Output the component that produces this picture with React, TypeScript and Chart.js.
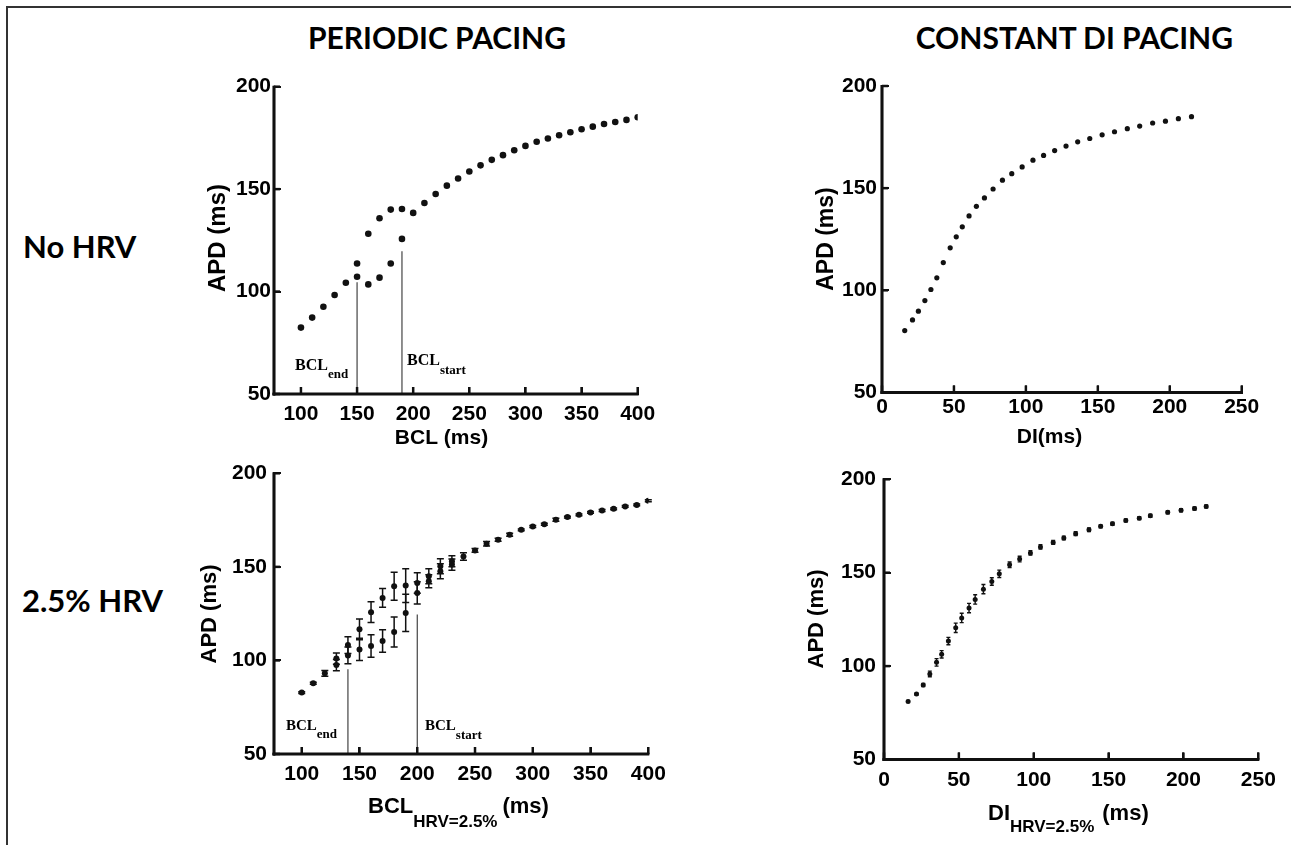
import React, { useEffect, useRef } from 'react';
import { Chart, registerables } from 'chart.js';
Chart.register(...registerables);

const W = 1291;
const H = 845;

// ---------- data ----------
const yTicks = [50, 100, 150, 200];
const xTicksBCL = [100, 150, 200, 250, 300, 350, 400];
const xTicksDI = [0, 50, 100, 150, 200, 250];

// Panel 1: periodic pacing, no HRV
const bcl1 = [100, 110, 120, 130, 140, 150, 160, 170, 180, 190, 200, 210, 220, 230, 240, 250, 260, 270, 280, 290, 300, 310, 320, 330, 340, 350, 360, 370, 380, 390, 400];
const apd1 = [82.4, 87.3, 92.6, 98.3, 104.3, 113.7, 128.2, 135.8, 140.0, 140.3, 138.4, 143.2, 147.6, 151.7, 155.2, 158.6, 161.6, 164.3, 166.6, 169.0, 171.1, 173.1, 174.7, 176.3, 177.8, 179.2, 180.5, 181.8, 182.8, 183.8, 185.1];
const bcl1Low = [150, 160, 170, 180, 190];
const apd1Low = [107.2, 103.5, 106.8, 113.7, 125.7];
const marks1X = [150, 190];
const marks1Top = [104.5, 119.7];

// Panel 2: constant DI pacing, no HRV
const di2 = [15.8, 21.2, 25.3, 29.8, 34.0, 38.1, 42.6, 47.4, 51.6, 55.8, 60.5, 65.6, 71.2, 77.2, 83.7, 90.2, 97.4, 104.9, 112.3, 120.0, 127.9, 136.0, 144.4, 153.0, 161.6, 170.5, 179.1, 188.1, 197.0, 206.0, 215.1];
const apd2 = [80.3, 85.5, 89.8, 95.0, 100.4, 106.1, 113.6, 120.8, 126.2, 131.1, 136.4, 141.1, 145.2, 149.6, 153.9, 157.1, 160.4, 163.7, 166.0, 168.4, 170.6, 172.7, 174.3, 176.1, 177.6, 179.1, 180.4, 181.9, 182.8, 184.0, 185.0];

// Panel 3: periodic pacing, 2.5% HRV (mean ± sd)
const bcl3 = [100, 110, 120, 130, 140, 150, 160, 170, 180, 190, 200, 210, 220, 230, 240, 250, 260, 270, 280, 290, 300, 310, 320, 330, 340, 350, 360, 370, 380, 390, 400];
const apd3 = [82.8, 87.8, 93.1, 101.0, 108.2, 116.6, 125.8, 133.4, 139.6, 140.0, 141.4, 145.0, 150.3, 153.0, 155.6, 158.8, 162.4, 164.5, 167.2, 169.8, 171.6, 172.8, 175.2, 176.6, 177.8, 179.1, 180.1, 181.0, 182.3, 183.1, 185.3];
const err3 = [0.5, 0.5, 1.5, 3.0, 4.5, 5.5, 5.5, 5.0, 7.5, 9.0, 5.5, 4.0, 4.0, 3.0, 2.0, 1.0, 1.2, 0.8, 0.8, 0.5, 0.5, 0.5, 0.8, 0.5, 0.5, 0.5, 0.5, 0.5, 0.5, 0.5, 0.5];
const bcl3Low = [130, 140, 150, 160, 170, 180, 190, 200, 210, 220, 230];
const apd3Low = [97.5, 102.7, 105.9, 107.7, 110.4, 115.2, 125.4, 136.1, 142.3, 147.6, 151.2];
const err3Low = [3.0, 4.5, 6.0, 6.0, 6.0, 8.0, 10.0, 6.0, 3.5, 4.0, 3.0];
const marks3X = [140, 200];
const marks3Top = [95.3, 124.6];

// Panel 4: constant DI pacing, 2.5% HRV
const di4 = [16.1, 21.7, 26.2, 30.6, 35.1, 38.5, 43.0, 47.9, 51.9, 56.8, 60.9, 66.4, 72.0, 77.0, 83.9, 90.6, 97.8, 104.5, 113.0, 120.1, 128.0, 136.9, 144.7, 152.6, 161.5, 170.5, 177.9, 189.5, 198.4, 207.4, 215.2];
const apd4 = [81.1, 85.0, 89.9, 95.8, 102.0, 106.3, 113.4, 120.5, 125.8, 131.1, 135.7, 141.2, 145.3, 149.4, 154.2, 157.3, 160.6, 163.8, 166.2, 168.6, 170.9, 173.0, 174.8, 176.2, 178.0, 179.2, 180.5, 182.3, 183.4, 184.4, 185.5];
const err4 = [0.5, 0.5, 0.8, 1.5, 2.0, 2.0, 2.0, 2.5, 2.5, 2.5, 2.5, 2.5, 2.0, 2.0, 1.5, 1.5, 1.2, 1.2, 1.0, 1.0, 1.0, 1.0, 0.8, 0.8, 0.8, 0.8, 0.8, 0.8, 0.8, 0.8, 0.8];

// ---------- helpers ----------
const SANS = '"Liberation Sans", Arial, Helvetica, sans-serif';
const SERIF = '"Liberation Serif", "Times New Roman", serif';
const INK = '#111111';
const toXY = (xs: number[], ys: number[]) => xs.map((x, i) => ({ x, y: ys[i] }));

function pointSet(xs: number[], ys: number[], r: number) {
  return {
    type: 'scatter',
    data: toXY(xs, ys),
    showLine: false,
    pointRadius: r,
    pointHoverRadius: r,
    pointBackgroundColor: INK,
    pointBorderWidth: 0,
    borderWidth: 0,
  };
}

function markLines(xs: number[], tops: number[], base: number) {
  return xs.map((x, i) => ({
    type: 'line',
    data: [{ x, y: base }, { x, y: tops[i] }],
    showLine: true,
    borderColor: '#333',
    borderWidth: 1.1,
    pointRadius: 0,
    fill: false,
  }));
}

function subLabel(ctx: CanvasRenderingContext2D, x: number, base: number, main: string, sub: string, mainFont: string, subFont: string, subDrop: number, rest?: string, restGap?: number) {
  ctx.textAlign = 'left';
  ctx.textBaseline = 'alphabetic';
  ctx.font = mainFont;
  ctx.fillText(main, x, base);
  const w = ctx.measureText(main).width;
  ctx.font = subFont;
  ctx.fillText(sub, x + w, base + subDrop);
  const ws = ctx.measureText(sub).width;
  if (rest) {
    ctx.font = mainFont;
    ctx.fillText(rest, x + w + ws + (restGap || 0), base);
  }
}

function rotated(ctx: CanvasRenderingContext2D, text: string, cx: number, cy: number, font: string) {
  ctx.save();
  ctx.translate(cx, cy);
  ctx.rotate(-Math.PI / 2);
  ctx.font = font;
  ctx.textAlign = 'center';
  ctx.textBaseline = 'middle';
  ctx.fillText(text, 0, 0);
  ctx.restore();
}

type ErrBar = { x: number[]; y: number[]; e: number[]; cap: number; lw: number };
type Panel = {
  area: { left: number; top: number; right: number; bottom: number };
  xMin: number; xMax: number; xTicks: number[];
  xPad: number; yPad: number;
  datasets: any[];
  errs: ErrBar[];
  texts: (ctx: CanvasRenderingContext2D) => void;
};

const Y_W = 60;
const X_H = 40;
const TL = 7; // inward tick length

// thin strokes stacked side by side to build a heavier line
function heavyLine(ctx: CanvasRenderingContext2D, x1: number, y1: number, x2: number, y2: number, offsets: number[], vertical: boolean) {
  offsets.forEach((o) => {
    ctx.beginPath();
    if (vertical) { ctx.moveTo(x1 + o, y1); ctx.lineTo(x2 + o, y2); }
    else { ctx.moveTo(x1, y1 + o); ctx.lineTo(x2, y2 + o); }
    ctx.stroke();
  });
}

function makeChart(canvas: HTMLCanvasElement, p: Panel) {
  const decor = {
    id: 'panelDecor',
    afterDraw(chart: any) {
      const ctx: CanvasRenderingContext2D = chart.ctx;
      const xs = chart.scales.x;
      const ys = chart.scales.y;
      ctx.save();
      ctx.strokeStyle = INK;
      p.errs.forEach((eb) => {
        ctx.lineWidth = eb.lw;
        eb.x.forEach((xv, i) => {
          const px = xs.getPixelForValue(xv);
          const y1 = ys.getPixelForValue(eb.y[i] - eb.e[i]);
          const y2 = ys.getPixelForValue(eb.y[i] + eb.e[i]);
          ctx.beginPath();
          ctx.moveTo(px, y1); ctx.lineTo(px, y2);
          ctx.moveTo(px - eb.cap, y1); ctx.lineTo(px + eb.cap, y1);
          ctx.moveTo(px - eb.cap, y2); ctx.lineTo(px + eb.cap, y2);
          ctx.stroke();
        });
      });
      // axis frame through the scales: stacked 1.5px strokes (~3px total)
      const L = xs.getPixelForValue(p.xMin);
      const R = xs.getPixelForValue(p.xMax);
      const T = ys.getPixelForValue(200);
      const B = ys.getPixelForValue(50);
      ctx.strokeStyle = INK;
      ctx.lineWidth = 1.5;
      const offs = [-0.8, 0, 0.8];
      heavyLine(ctx, L, T - 1, L, B + 1.5, offs, true);
      heavyLine(ctx, L - 1.5, B, R + 1, B, offs, false);
      const toffs = [-0.5, 0.5];
      p.xTicks.forEach((v) => {
        const px = xs.getPixelForValue(v);
        heavyLine(ctx, px, B, px, B - TL, toffs, true);
      });
      yTicks.forEach((v) => {
        const py = ys.getPixelForValue(v);
        heavyLine(ctx, L, py, L + 6, py, toffs, false);
      });
      ctx.fillStyle = '#000';
      p.texts(ctx);
      ctx.restore();
    },
  };

  const tickFont = { family: SANS, weight: 'bold' as const, size: 21 };
  const grid = {
    display: true,
    drawOnChartArea: false,
    drawTicks: true,
    tickLength: -TL,
    tickWidth: 2,
    tickColor: INK,
    color: INK,
    lineWidth: 2,
  };
  const border = { display: true, color: INK, width: 2 };
  return new Chart(canvas, {
    type: 'scatter',
    data: { datasets: p.datasets },
    options: {
      responsive: false,
      maintainAspectRatio: false,
      animation: false,
      events: [],
      layout: {
        padding: {
          left: p.area.left - Y_W,
          top: p.area.top,
          right: W - p.area.right,
          bottom: H - p.area.bottom - X_H,
        },
      },
      plugins: { legend: { display: false }, tooltip: { enabled: false } },
      scales: {
        x: {
          type: 'linear',
          min: p.xMin,
          max: p.xMax,
          afterFit: (s: any) => { s.height = X_H; },
          afterBuildTicks: (s: any) => { s.ticks = p.xTicks.map((v) => ({ value: v })); },
          grid,
          border,
          ticks: { font: tickFont, color: '#000', padding: p.xPad + TL, autoSkip: false, maxRotation: 0, minRotation: 0 },
        },
        y: {
          type: 'linear',
          min: 50,
          max: 200,
          afterFit: (s: any) => { s.width = Y_W; },
          afterBuildTicks: (s: any) => { s.ticks = yTicks.map((v) => ({ value: v })); },
          grid,
          border,
          ticks: { font: tickFont, color: '#000', padding: p.yPad + TL, autoSkip: false },
        },
      },
    },
    plugins: [decor],
  } as any);
}

const bold = (s: number) => `bold ${s}px ${SANS}`;
const serifBold = (s: number) => `bold ${s}px ${SERIF}`;

const panels: Panel[] = [
  {
    area: { left: 274, top: 86.7, right: 637.7, bottom: 394 },
    xMin: 76, xMax: 400, xTicks: xTicksBCL, xPad: 8, yPad: 3,
    datasets: [pointSet(bcl1, apd1, 3.3), pointSet(bcl1Low, apd1Low, 3.3), ...markLines(marks1X, marks1Top, 50)],
    errs: [],
    texts: (ctx) => {
      ctx.font = bold(21); ctx.textAlign = 'center'; ctx.textBaseline = 'middle';
      ctx.fillText('BCL (ms)', 441.5, 438);
      rotated(ctx, 'APD (ms)', 218, 238, bold(24));
      subLabel(ctx, 295, 370, 'BCL', 'end', serifBold(16), serifBold(13), 8);
      subLabel(ctx, 407, 365, 'BCL', 'start', serifBold(16), serifBold(13), 9);
    },
  },
  {
    area: { left: 882, top: 86, right: 1241.7, bottom: 392.5 },
    xMin: 0, xMax: 250, xTicks: xTicksDI, xPad: 2, yPad: 5,
    datasets: [pointSet(di2, apd2, 2.6)],
    errs: [],
    texts: (ctx) => {
      ctx.font = bold(21); ctx.textAlign = 'center'; ctx.textBaseline = 'middle';
      ctx.fillText('DI(ms)', 1049.5, 437);
      rotated(ctx, 'APD (ms)', 827, 239, bold(23));
    },
  },
  {
    area: { left: 274, top: 473.3, right: 648.3, bottom: 754 },
    xMin: 76, xMax: 400, xTicks: xTicksBCL, xPad: 8, yPad: 7,
    datasets: [pointSet(bcl3, apd3, 3), pointSet(bcl3Low, apd3Low, 3), ...markLines(marks3X, marks3Top, 50)],
    errs: [
      { x: bcl3, y: apd3, e: err3, cap: 3.5, lw: 1.5 },
      { x: bcl3Low, y: apd3Low, e: err3Low, cap: 3.5, lw: 1.5 },
    ],
    texts: (ctx) => {
      subLabel(ctx, 368, 813, 'BCL', 'HRV=2.5%', bold(22), bold(17), 14, '(ms)', 5);
      rotated(ctx, 'APD (ms)', 210, 614, bold(22));
      subLabel(ctx, 286, 730, 'BCL', 'end', serifBold(15), serifBold(13), 8);
      subLabel(ctx, 425, 730, 'BCL', 'start', serifBold(15), serifBold(13), 9);
    },
  },
  {
    area: { left: 884, top: 479.3, right: 1258.3, bottom: 759.5 },
    xMin: 0, xMax: 250, xTicks: xTicksDI, xPad: 8, yPad: 8,
    datasets: [pointSet(di4, apd4, 2.5)],
    errs: [{ x: di4, y: apd4, e: err4, cap: 2, lw: 1.4 }],
    texts: (ctx) => {
      subLabel(ctx, 988, 820, 'DI', 'HRV=2.5%', bold(22), bold(17), 12, '(ms)', 8);
      rotated(ctx, 'APD (ms)', 817, 619, bold(22));
    },
  },
];

function PanelCanvas({ p }: { p: Panel }) {
  const ref = useRef<HTMLCanvasElement>(null);
  useEffect(() => {
    if (!ref.current) return;
    const c = makeChart(ref.current, p);
    return () => c.destroy();
  }, [p]);
  return (
    <canvas
      ref={ref}
      width={W}
      height={H}
      style={{ position: 'absolute', left: 0, top: 0, width: W, height: H }}
    />
  );
}

const bigText: React.CSSProperties = {
  position: 'absolute',
  fontFamily: 'Lato, "Open Sans", sans-serif',
  fontWeight: 700,
  color: '#000',
  whiteSpace: 'nowrap',
  lineHeight: 1,
};

export default function App() {
  return (
    <div style={{ position: 'absolute', left: 0, top: 0, width: W, height: H, overflow: 'hidden', background: '#fff' }}>
      <div style={{ position: 'absolute', left: 6, top: 6, width: 1320, height: 900, borderLeft: '2px solid #333', borderTop: '2px solid #333' }} />
      <div style={{ ...bigText, left: 308, top: 22, fontSize: 30 }}>PERIODIC PACING</div>
      <div style={{ ...bigText, right: 58, top: 22, fontSize: 30 }}>CONSTANT DI PACING</div>
      <div style={{ ...bigText, left: 23, top: 231, fontSize: 31 }}>No HRV</div>
      <div style={{ ...bigText, left: 22, top: 585, fontSize: 31 }}>2.5% HRV</div>
      {panels.map((p, i) => (
        <PanelCanvas key={i} p={p} />
      ))}
    </div>
  );
}
